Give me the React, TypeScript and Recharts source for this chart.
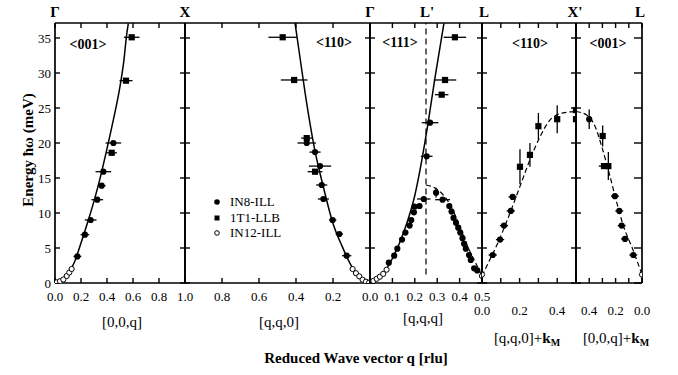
import React from 'react'
import { ComposedChart, Scatter, Line, XAxis, YAxis, ErrorBar, ReferenceLine } from 'recharts'

const SERIF = '"Liberation Serif", "Times New Roman", serif'
const Y_MAX = 37.14
const yTicks = [0, 5, 10, 15, 20, 25, 30, 35]
const PLOT_H = 260

// panel 1: Γ -> X, [0,0,q]
const g001Curve = [
  { q: 0, E: 0 }, { q: 0.05, E: 0.3 }, { q: 0.1, E: 1.3 }, { q: 0.15, E: 3.0 }, { q: 0.2, E: 5.7 },
  { q: 0.25, E: 8.6 }, { q: 0.3, E: 11.7 }, { q: 0.35, E: 15.2 }, { q: 0.4, E: 19.2 }, { q: 0.45, E: 23.4 },
  { q: 0.5, E: 28.1 }, { q: 0.53, E: 31.8 }, { q: 0.55, E: 35.3 }, { q: 0.564, E: 37.1 },
]
const g001In8 = [
  { q: 0.172, E: 3.8, dq: 0.03 }, { q: 0.23, E: 6.9, dq: 0.033 }, { q: 0.274, E: 9.0, dq: 0.045 },
  { q: 0.325, E: 11.9, dq: 0.045 }, { q: 0.359, E: 13.9, dq: 0.03 }, { q: 0.372, E: 15.9, dq: 0.06 },
  { q: 0.449, E: 20.0, dq: 0.06 },
]
const g001T1 = [
  { q: 0.436, E: 18.6, dq: 0.04 }, { q: 0.546, E: 28.9, dq: 0.05 }, { q: 0.59, E: 35.1, dq: 0.06 },
]
const g001In12 = [
  { q: 0.013, E: 0.1 }, { q: 0.038, E: 0.25 }, { q: 0.064, E: 0.5 }, { q: 0.09, E: 1.0 },
  { q: 0.11, E: 1.5 }, { q: 0.128, E: 2.0 },
]

// panel 2: X -> Γ, [q,q,0]
const g110Curve = [
  { q: 0, E: 0 }, { q: 0.05, E: 0.6 }, { q: 0.1, E: 2.4 }, { q: 0.15, E: 5.2 }, { q: 0.2, E: 8.5 },
  { q: 0.25, E: 13.5 }, { q: 0.3, E: 19.2 }, { q: 0.35, E: 27.0 }, { q: 0.38, E: 32.5 }, { q: 0.405, E: 37.1 },
]
const g110In8 = [
  { q: 0.342, E: 20.0, dq: 0.05 }, { q: 0.297, E: 18.7, dq: 0.03 }, { q: 0.27, E: 16.7, dq: 0.06 },
  { q: 0.261, E: 14.0, dq: 0.03 }, { q: 0.252, E: 12.0, dq: 0.03 }, { q: 0.202, E: 9.0, dq: 0.02 },
  { q: 0.166, E: 7.0, dq: 0.02 }, { q: 0.126, E: 3.9, dq: 0.025 },
]
const g110T1 = [
  { q: 0.472, E: 35.1, dq: 0.077 }, { q: 0.41, E: 29.0, dq: 0.072 }, { q: 0.342, E: 20.7, dq: 0.03 },
  { q: 0.297, E: 15.9, dq: 0.04 },
]
const g110In12 = [
  { q: 0.094, E: 2.0 }, { q: 0.076, E: 1.4 }, { q: 0.058, E: 0.95 }, { q: 0.04, E: 0.47 },
  { q: 0.022, E: 0.19 }, { q: 0.005, E: 0.05 },
]

// panel 3: Γ -> L, [q,q,q]
const g111Curve = [
  { q: 0, E: 0 }, { q: 0.05, E: 1.0 }, { q: 0.1, E: 3.5 }, { q: 0.15, E: 7.2 }, { q: 0.2, E: 12.5 },
  { q: 0.23, E: 17.3 }, { q: 0.26, E: 23.0 }, { q: 0.29, E: 29.3 }, { q: 0.33, E: 37.1 },
]
const g111Lower = [
  { q: 0.25, E: 14.0 }, { q: 0.288, E: 13.6 }, { q: 0.332, E: 12.4 }, { q: 0.369, E: 10.5 },
  { q: 0.406, E: 7.6 }, { q: 0.442, E: 4.8 }, { q: 0.479, E: 2.4 }, { q: 0.5, E: 1.0 },
]
const g111In8 = [
  { q: 0.268, E: 22.9, dq: 0.037, dE: 0 }, { q: 0.253, E: 18.1, dq: 0.026, dE: 0 },
  { q: 0.24, E: 12.0, dq: 0.03, dE: 0 }, { q: 0.295, E: 12.9, dq: 0, dE: 0.7 },
  { q: 0.324, E: 11.9, dq: 0.033, dE: 0 },
  { q: 0.084, E: 2.9, dq: 0, dE: 0 }, { q: 0.108, E: 3.9, dq: 0, dE: 0 }, { q: 0.122, E: 4.9, dq: 0, dE: 0 },
  { q: 0.143, E: 6.2, dq: 0, dE: 0 }, { q: 0.158, E: 7.2, dq: 0, dE: 0 }, { q: 0.177, E: 8.2, dq: 0, dE: 0 },
  { q: 0.184, E: 9.0, dq: 0, dE: 0 }, { q: 0.196, E: 10.1, dq: 0, dE: 0 }, { q: 0.199, E: 10.9, dq: 0, dE: 0 },
  { q: 0.221, E: 11.0, dq: 0, dE: 0 },
  { q: 0.354, E: 11.0, dq: 0, dE: 0 }, { q: 0.364, E: 10.2, dq: 0, dE: 0 }, { q: 0.373, E: 9.3, dq: 0, dE: 0 },
  { q: 0.384, E: 8.6, dq: 0, dE: 0 }, { q: 0.394, E: 7.9, dq: 0, dE: 0 }, { q: 0.403, E: 7.2, dq: 0, dE: 0 },
  { q: 0.413, E: 6.4, dq: 0, dE: 0 }, { q: 0.42, E: 5.6, dq: 0, dE: 0 }, { q: 0.428, E: 4.9, dq: 0, dE: 0 },
  { q: 0.442, E: 4.0, dq: 0, dE: 0 }, { q: 0.45, E: 3.3, dq: 0, dE: 0 }, { q: 0.465, E: 2.1, dq: 0, dE: 0 },
  { q: 0.479, E: 1.8, dq: 0, dE: 0 },
]
const g111T1 = [
  { q: 0.379, E: 35.1, dq: 0.05 }, { q: 0.335, E: 29.0, dq: 0.05 }, { q: 0.32, E: 26.9, dq: 0.03 },
]
const g111In12 = [
  { q: 0.015, E: 0.3 }, { q: 0.03, E: 0.6 }, { q: 0.044, E: 0.9 }, { q: 0.059, E: 1.3 },
  { q: 0.074, E: 1.9 }, { q: 0.5, E: 1.0 },
]

// panel 4: L -> X', [q,q,0]+kM
const m110Curve = [
  { q: 0, E: 1.0 }, { q: 0.034, E: 2.9 }, { q: 0.087, E: 5.9 }, { q: 0.149, E: 10.0 }, { q: 0.202, E: 13.8 },
  { q: 0.255, E: 17.6 }, { q: 0.309, E: 20.9 }, { q: 0.362, E: 23.3 }, { q: 0.432, E: 24.3 }, { q: 0.5, E: 24.5 },
]
const m110In8 = [
  { q: 0.057, E: 4.0, dq: 0.022 }, { q: 0.096, E: 6.2, dq: 0.022 }, { q: 0.117, E: 8.2, dq: 0.022 },
  { q: 0.153, E: 10.3, dq: 0.022 }, { q: 0.163, E: 12.3, dq: 0.022 },
]
const m110T1 = [
  { q: 0.202, E: 16.6, dE: 2.5 }, { q: 0.255, E: 18.3, dE: 1.7 }, { q: 0.3, E: 22.4, dE: 1.9 },
  { q: 0.4, E: 23.4, dE: 2.0 }, { q: 0.5, E: 24.7, dE: 0 }, { q: 0.5, E: 23.4, dE: 0 },
]
const m110In12 = [{ q: 0, E: 1.2 }]

// panel 5: X' -> L, [0,0,q]+kM
const m001Curve = [
  { q: 0.5, E: 24.5 }, { q: 0.419, E: 24.0 }, { q: 0.356, E: 22.4 }, { q: 0.305, E: 19.5 }, { q: 0.242, E: 15.2 },
  { q: 0.19, E: 11.4 }, { q: 0.14, E: 8.1 }, { q: 0.078, E: 5.2 }, { q: 0, E: 1.2 },
]
const m001In8 = [
  { q: 0.4, E: 23.4, dq: 0, dE: 1.4 }, { q: 0.205, E: 12.4, dq: 0.03, dE: 0 }, { q: 0.172, E: 10.3, dq: 0.03, dE: 0 },
  { q: 0.154, E: 8.2, dq: 0.03, dE: 0 }, { q: 0.129, E: 6.3, dq: 0.03, dE: 0 }, { q: 0.066, E: 4.0, dq: 0.03, dE: 0 },
]
const m001T1 = [
  { q: 0.298, E: 21.0, dq: 0, dE: 1.5 }, { q: 0.288, E: 16.7, dq: 0.04, dE: 0 }, { q: 0.255, E: 16.7, dq: 0, dE: 2.0 },
]
const m001In12 = [{ q: 0, E: 1.2 }]

const dot = (p: any) => <circle cx={p.cx} cy={p.cy} r={3.1} fill="#000" />
const square = (p: any) => <rect x={p.cx - 3.1} y={p.cy - 3.1} width={6.2} height={6.2} fill="#000" />
const ring = (p: any) => <circle cx={p.cx} cy={p.cy} r={2.6} fill="#fff" stroke="#000" strokeWidth={1} />

const tickFont = { fill: '#000', fontSize: 13, fontFamily: SERIF }

type PanelProps = {
  left: number
  width: number
  domain: [number, number]
  reversed?: boolean
  ticks: number[]
  labels: number[]
  labelGap: number
  yLabels?: boolean
  rightTick?: number
  children: React.ReactNode
}

function Panel({ left, width, domain, reversed, ticks, labels, labelGap, yLabels, rightTick = 5, children }: PanelProps) {
  const padL = yLabels ? 45 : 14
  const padR = 18
  // frame and inward ticks, in data units
  const qPerPx = (domain[1] - domain[0]) / width
  const ePerPx = Y_MAX / PLOT_H
  const leftEdge = reversed ? domain[1] : domain[0]
  const rightEdge = reversed ? domain[0] : domain[1]
  const dir = reversed ? -1 : 1
  const frame = { stroke: '#000', strokeWidth: 1.7, ifOverflow: 'visible' as const }
  const tk = { stroke: '#000', strokeWidth: 1.4, ifOverflow: 'visible' as const }
  return (
    <div style={{ position: 'absolute', left: left - padL, top: 0 }}>
      <ComposedChart width={width + padL + padR} height={330} margin={{ top: 23, right: padR, bottom: 30, left: yLabels ? 0 : padL }}>
        <XAxis
          dataKey="q" type="number" domain={domain} reversed={reversed} ticks={ticks} interval={0}
          allowDataOverflow height={17} tickSize={-5} tickMargin={labelGap} axisLine={false} tickLine={false}
          tick={tickFont} tickFormatter={(v: number) => (labels.includes(v) ? v.toFixed(1) : '')}
        />
        <YAxis
          dataKey="E" type="number" domain={[0, Y_MAX]} ticks={yTicks} interval={0} allowDataOverflow
          hide={!yLabels} width={yLabels ? padL : 0} tickSize={-5} tickMargin={9} tick={tickFont}
          axisLine={false} tickLine={false}
        />
        <ReferenceLine x={leftEdge} {...frame} />
        <ReferenceLine x={rightEdge} {...frame} />
        <ReferenceLine y={0} {...frame} />
        <ReferenceLine y={Y_MAX} {...frame} />
        {ticks.map((t) => (
          <ReferenceLine key={'b' + t} segment={[{ x: t, y: 0 }, { x: t, y: 5 * ePerPx }]} {...tk} />
        ))}
        {ticks.map((t) => (
          <ReferenceLine key={'t' + t} segment={[{ x: t, y: Y_MAX }, { x: t, y: Y_MAX - 5 * ePerPx }]} {...tk} />
        ))}
        {yTicks.map((e) => (
          <ReferenceLine key={'l' + e} segment={[{ x: leftEdge, y: e }, { x: leftEdge + dir * 5 * qPerPx, y: e }]} {...tk} />
        ))}
        {yTicks.map((e) => (
          <ReferenceLine key={'r' + e} segment={[{ x: rightEdge, y: e }, { x: rightEdge - dir * rightTick * qPerPx, y: e }]} {...tk} />
        ))}
        {children}
      </ComposedChart>
    </div>
  )
}

const solid = (data: any[]) => (
  <Line data={data} dataKey="E" type="monotone" dot={false} stroke="#000" strokeWidth={1.5} isAnimationActive={false} />
)
const dashed = (data: any[]) => (
  <Line data={data} dataKey="E" type="monotone" dot={false} stroke="#000" strokeWidth={1.2} strokeDasharray="5 3" isAnimationActive={false} />
)
const xErr = <ErrorBar dataKey="dq" direction="x" width={0} stroke="#000" strokeWidth={1.3} />
const yErr = <ErrorBar dataKey="dE" direction="y" width={0} stroke="#000" strokeWidth={1.3} />

export default function App() {
  const txt = { fontFamily: SERIF, fill: '#000' }
  return (
    <div style={{ position: 'absolute', left: 0, top: 0, width: 678, height: 375, background: '#fff' }}>
      <Panel left={55} width={130} domain={[0, 1]} ticks={[0, 0.2, 0.4, 0.6, 0.8, 1]} labels={[0, 0.2, 0.4, 0.6, 0.8]} labelGap={14} yLabels>
        {solid(g001Curve)}
        <Scatter data={g001In8} shape={dot} isAnimationActive={false}>{xErr}</Scatter>
        <Scatter data={g001T1} shape={square} isAnimationActive={false}>{xErr}</Scatter>
        <Scatter data={g001In12} shape={ring} isAnimationActive={false} />
      </Panel>
      <Panel left={185} width={185} domain={[0, 1]} reversed ticks={[0, 0.2, 0.4, 0.6, 0.8, 1]} labels={[0.2, 0.4, 0.6, 0.8, 1]} labelGap={14}>
        {solid(g110Curve)}
        <Scatter data={g110In8} shape={dot} isAnimationActive={false}>{xErr}</Scatter>
        <Scatter data={g110T1} shape={square} isAnimationActive={false}>{xErr}</Scatter>
        <Scatter data={g110In12} shape={ring} isAnimationActive={false} />
      </Panel>
      <Panel left={370} width={112} domain={[0, 0.5]} ticks={[0, 0.1, 0.2, 0.3, 0.4, 0.5]} labels={[0, 0.1, 0.2, 0.3, 0.4, 0.5]} labelGap={14}>
        <ReferenceLine segment={[{ x: 0.25, y: 1.2 }, { x: 0.25, y: Y_MAX }]} stroke="#000" strokeWidth={1.2} strokeDasharray="6 4" />
        {solid(g111Curve)}
        {dashed(g111Lower)}
        <Scatter data={g111In8} shape={dot} isAnimationActive={false}>{xErr}{yErr}</Scatter>
        <Scatter data={g111T1} shape={square} isAnimationActive={false}>{xErr}</Scatter>
        <Scatter data={g111In12} shape={ring} isAnimationActive={false} />
      </Panel>
      <Panel left={482} width={94} domain={[0, 0.5]} ticks={[0, 0.1, 0.2, 0.3, 0.4, 0.5]} labels={[0, 0.2, 0.4]} labelGap={28}>
        {dashed(m110Curve)}
        <Scatter data={m110In8} shape={dot} isAnimationActive={false}>{xErr}</Scatter>
        <Scatter data={m110T1} shape={square} isAnimationActive={false}>{yErr}</Scatter>
        <Scatter data={m110In12} shape={ring} isAnimationActive={false} />
      </Panel>
      <Panel left={576} width={66} domain={[0, 0.5]} reversed ticks={[0, 0.1, 0.2, 0.3, 0.4, 0.5]} labels={[0, 0.2, 0.4]} labelGap={28} rightTick={8}>
        {dashed(m001Curve)}
        <Scatter data={m001In8} shape={dot} isAnimationActive={false}>{xErr}{yErr}</Scatter>
        <Scatter data={m001T1} shape={square} isAnimationActive={false}>{xErr}{yErr}</Scatter>
        <Scatter data={m001In12} shape={ring} isAnimationActive={false} />
      </Panel>

      <svg width={678} height={375} style={{ position: 'absolute', left: 0, top: 0, pointerEvents: 'none' }}>
        <g {...txt} fontSize={15} fontWeight="bold" textAnchor="middle">
          <text x={55} y={17}>Γ</text>
          <text x={185} y={17}>X</text>
          <text x={370} y={17}>Γ</text>
          <text x={427} y={17}>L'</text>
          <text x={484} y={17}>L</text>
          <text x={575} y={17}>X'</text>
          <text x={640} y={17}>L</text>
        </g>
        <g {...txt} fontSize={14} fontWeight="bold" textAnchor="middle">
          <text x={88} y={49}>&lt;001&gt;</text>
          <text x={334} y={47}>&lt;110&gt;</text>
          <text x={400} y={47}>&lt;111&gt;</text>
          <text x={530} y={48}>&lt;110&gt;</text>
          <text x={608} y={48}>&lt;001&gt;</text>
        </g>
        <g {...txt} fontSize={15} textAnchor="middle">
          <text x={122} y={327}>[0,0,q]</text>
          <text x={279} y={327}>[q,q,0]</text>
          <text x={423} y={323}>[q,q,q]</text>
          <text x={527} y={343}>[q,q,0]+<tspan fontWeight="bold">k</tspan><tspan fontSize={10} fontWeight="bold" dy={3}>M</tspan></text>
          <text x={616} y={343}>[0,0,q]+<tspan fontWeight="bold">k</tspan><tspan fontSize={10} fontWeight="bold" dy={3}>M</tspan></text>
        </g>
        <text {...txt} x={356} y={363} fontSize={15} fontWeight="bold" textAnchor="middle">Reduced Wave vector q  [rlu]</text>
        <text {...txt} x={0} y={0} fontSize={15} fontWeight="bold" textAnchor="middle" transform="translate(33,150) rotate(-90)">Energy ħω (meV)</text>
        <g {...txt} fontSize={13}>
          <circle cx={217} cy={202} r={2.8} fill="#000" />
          <text x={230} y={206}>IN8-ILL</text>
          <rect x={214.5} y={215.5} width={5} height={5} fill="#000" />
          <text x={230} y={222}>1T1-LLB</text>
          <circle cx={217} cy={233} r={2.3} fill="#fff" stroke="#000" strokeWidth={1} />
          <text x={230} y={237}>IN12-ILL</text>
        </g>
      </svg>
    </div>
  )
}
